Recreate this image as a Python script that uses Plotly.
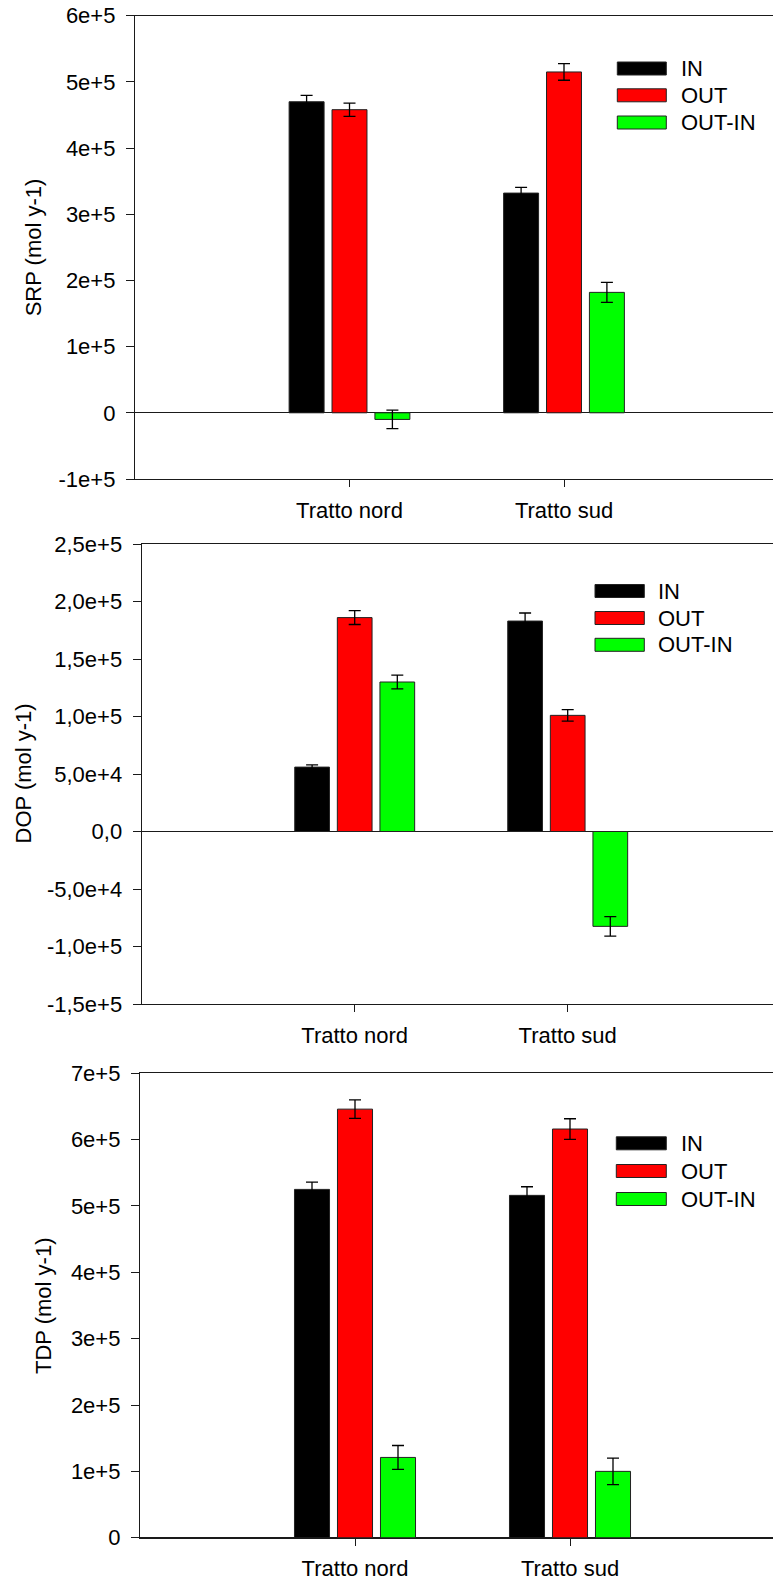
import plotly.graph_objects as go

# ---------------- data ----------------
categories = ["Tratto nord", "Tratto sud"]
series_names = ["IN", "OUT", "OUT-IN"]
series_colors = ["#000000", "#ff0000", "#00ff00"]

srp_in = [4.70e5, 3.32e5]
srp_in_err = [9.5e3, 8.5e3]
srp_out = [4.58e5, 5.15e5]
srp_out_err = [1.0e4, 1.25e4]
srp_diff = [-1.0e4, 1.82e5]
srp_diff_err = [1.4e4, 1.5e4]

dop_in = [5.6e4, 1.83e5]
dop_in_err = [2.0e3, 7.0e3]
dop_out = [1.86e5, 1.01e5]
dop_out_err = [6.0e3, 5.0e3]
dop_diff = [1.30e5, -8.25e4]
dop_diff_err = [6.0e3, 8.5e3]

tdp_in = [5.25e5, 5.16e5]
tdp_in_err = [1.1e4, 1.3e4]
tdp_out = [6.46e5, 6.16e5]
tdp_out_err = [1.4e4, 1.55e4]
tdp_diff = [1.21e5, 1.0e5]
tdp_diff_err = [1.8e4, 2.0e4]

srp_tickvals = [-1e5, 0, 1e5, 2e5, 3e5, 4e5, 5e5, 6e5]
srp_ticktext = ["-1e+5", "0", "1e+5", "2e+5", "3e+5", "4e+5", "5e+5", "6e+5"]
dop_tickvals = [-1.5e5, -1.0e5, -5e4, 0, 5e4, 1.0e5, 1.5e5, 2.0e5, 2.5e5]
dop_ticktext = ["-1,5e+5", "-1,0e+5", "-5,0e+4", "0,0", "5,0e+4", "1,0e+5", "1,5e+5", "2,0e+5", "2,5e+5"]
tdp_tickvals = [0, 1e5, 2e5, 3e5, 4e5, 5e5, 6e5, 7e5]
tdp_ticktext = ["0", "1e+5", "2e+5", "3e+5", "4e+5", "5e+5", "6e+5", "7e+5"]

axis_titles = ["SRP (mol y-1)", "DOP (mol y-1)", "TDP (mol y-1)"]

# ---------------- layout geometry (px) ----------------
W, H = 773, 1581
FONT = "Liberation Sans, Arial, sans-serif"
FS = 22
AX_COLOR = "#1a1a1a"

panels = [
    dict(vals=[(srp_in, srp_in_err), (srp_out, srp_out_err), (srp_diff, srp_diff_err)],
         left=135, top=15.7, bottom=479, yrange=[-1e5, 6e5],
         tickvals=srp_tickvals, ticktext=srp_ticktext, title_x=33,
         leg_x0=617.3, leg_x1=666.3, leg_text_x=679, leg_rows=[68.5, 95.3, 122.5]),
    dict(vals=[(dop_in, dop_in_err), (dop_out, dop_out_err), (dop_diff, dop_diff_err)],
         left=141.7, top=544, bottom=1004, yrange=[-1.5e5, 2.5e5],
         tickvals=dop_tickvals, ticktext=dop_ticktext, title_x=23.5,
         leg_x0=595, leg_x1=644.3, leg_text_x=656, leg_rows=[591, 618, 644.8]),
    dict(vals=[(tdp_in, tdp_in_err), (tdp_out, tdp_out_err), (tdp_diff, tdp_diff_err)],
         left=140, top=1073.3, bottom=1537.7, yrange=[0, 7e5],
         tickvals=tdp_tickvals, ticktext=tdp_ticktext, title_x=43.5,
         leg_x0=616.3, leg_x1=666.3, leg_text_x=679, leg_rows=[1143.3, 1171, 1199]),
]
cat_spacing = [214.5, 213.0, 215.0]

fig = go.Figure()
layout_axes = {}
shapes = []
annotations = []

for i, p in enumerate(panels):
    n = i + 1
    xa = "x" if n == 1 else f"x{n}"
    ya = "y" if n == 1 else f"y{n}"
    for (vals, errs), name, col in zip(p["vals"], series_names, series_colors):
        fig.add_trace(go.Bar(
            x=categories, y=vals, name=name, xaxis=xa, yaxis=ya,
            marker=dict(color=col, line=dict(color="#222222", width=1)),
            error_y=dict(type="data", array=errs, visible=True,
                         color="#000000", thickness=1.3, width=6),
            showlegend=False,
        ))
    x_right = -1 + (W - p["left"]) / cat_spacing[i]
    xkey = "xaxis" if n == 1 else f"xaxis{n}"
    ykey = "yaxis" if n == 1 else f"yaxis{n}"
    layout_axes[xkey] = dict(
        domain=[p["left"] / W, 1.0], anchor=ya, type="category",
        categoryorder="array", categoryarray=categories,
        range=[-1, x_right], showline=True, mirror=True,
        linecolor=AX_COLOR, linewidth=1.3, ticks="outside", ticklen=7,
        tickwidth=1.3, tickcolor=AX_COLOR, showgrid=False, zeroline=False,
        tickfont=dict(family=FONT, size=FS, color="#000000"),
        ticklabelstandoff=4, automargin=False, fixedrange=True,
    )
    layout_axes[ykey] = dict(
        domain=[1 - p["bottom"] / H, 1 - p["top"] / H], anchor=xa,
        range=p["yrange"], tickmode="array", tickvals=p["tickvals"],
        ticktext=p["ticktext"], showline=True, mirror=False,
        linecolor=AX_COLOR, linewidth=1.3, ticks="outside", ticklen=8,
        tickwidth=1.3, tickcolor=AX_COLOR, showgrid=False,
        zeroline=True, zerolinecolor=AX_COLOR, zerolinewidth=1.3,
        tickfont=dict(family=FONT, size=FS, color="#000000"),
        ticklabelstandoff=6, automargin=False, fixedrange=True,
    )
    annotations.append(dict(
        text=axis_titles[i], xref="paper", yref="paper",
        x=p["title_x"] / W, y=1 - (p["top"] + p["bottom"]) / 2 / H,
        xanchor="center", yanchor="middle", textangle=-90, showarrow=False,
        font=dict(family=FONT, size=FS, color="#000000"),
    ))
    for name, col, yc in zip(series_names, series_colors, p["leg_rows"]):
        shapes.append(dict(
            type="rect", xref="paper", yref="paper",
            x0=p["leg_x0"] / W, x1=p["leg_x1"] / W,
            y0=1 - (yc + 6.5) / H, y1=1 - (yc - 6.5) / H,
            fillcolor=col, line=dict(color="#222222", width=1),
        ))
        annotations.append(dict(
            text=name, xref="paper", yref="paper",
            x=p["leg_text_x"] / W, y=1 - yc / H,
            xanchor="left", yanchor="middle", showarrow=False,
            font=dict(family=FONT, size=FS, color="#000000"),
        ))

fig.update_layout(
    width=W, height=H,
    margin=dict(l=0, r=0, t=0, b=0),
    paper_bgcolor="white", plot_bgcolor="white",
    barmode="group", bargap=0.4, bargroupgap=0.185,
    font=dict(family=FONT, size=FS, color="#000000"),
    shapes=shapes, annotations=annotations,
    showlegend=False,
    **layout_axes,
)

fig.write_html(
    "out.html",
    config={"displayModeBar": False},
    post_script="document.body.style.margin='0px';"
                "document.documentElement.style.overflow='hidden';"
                "document.body.style.overflow='hidden';",
)
